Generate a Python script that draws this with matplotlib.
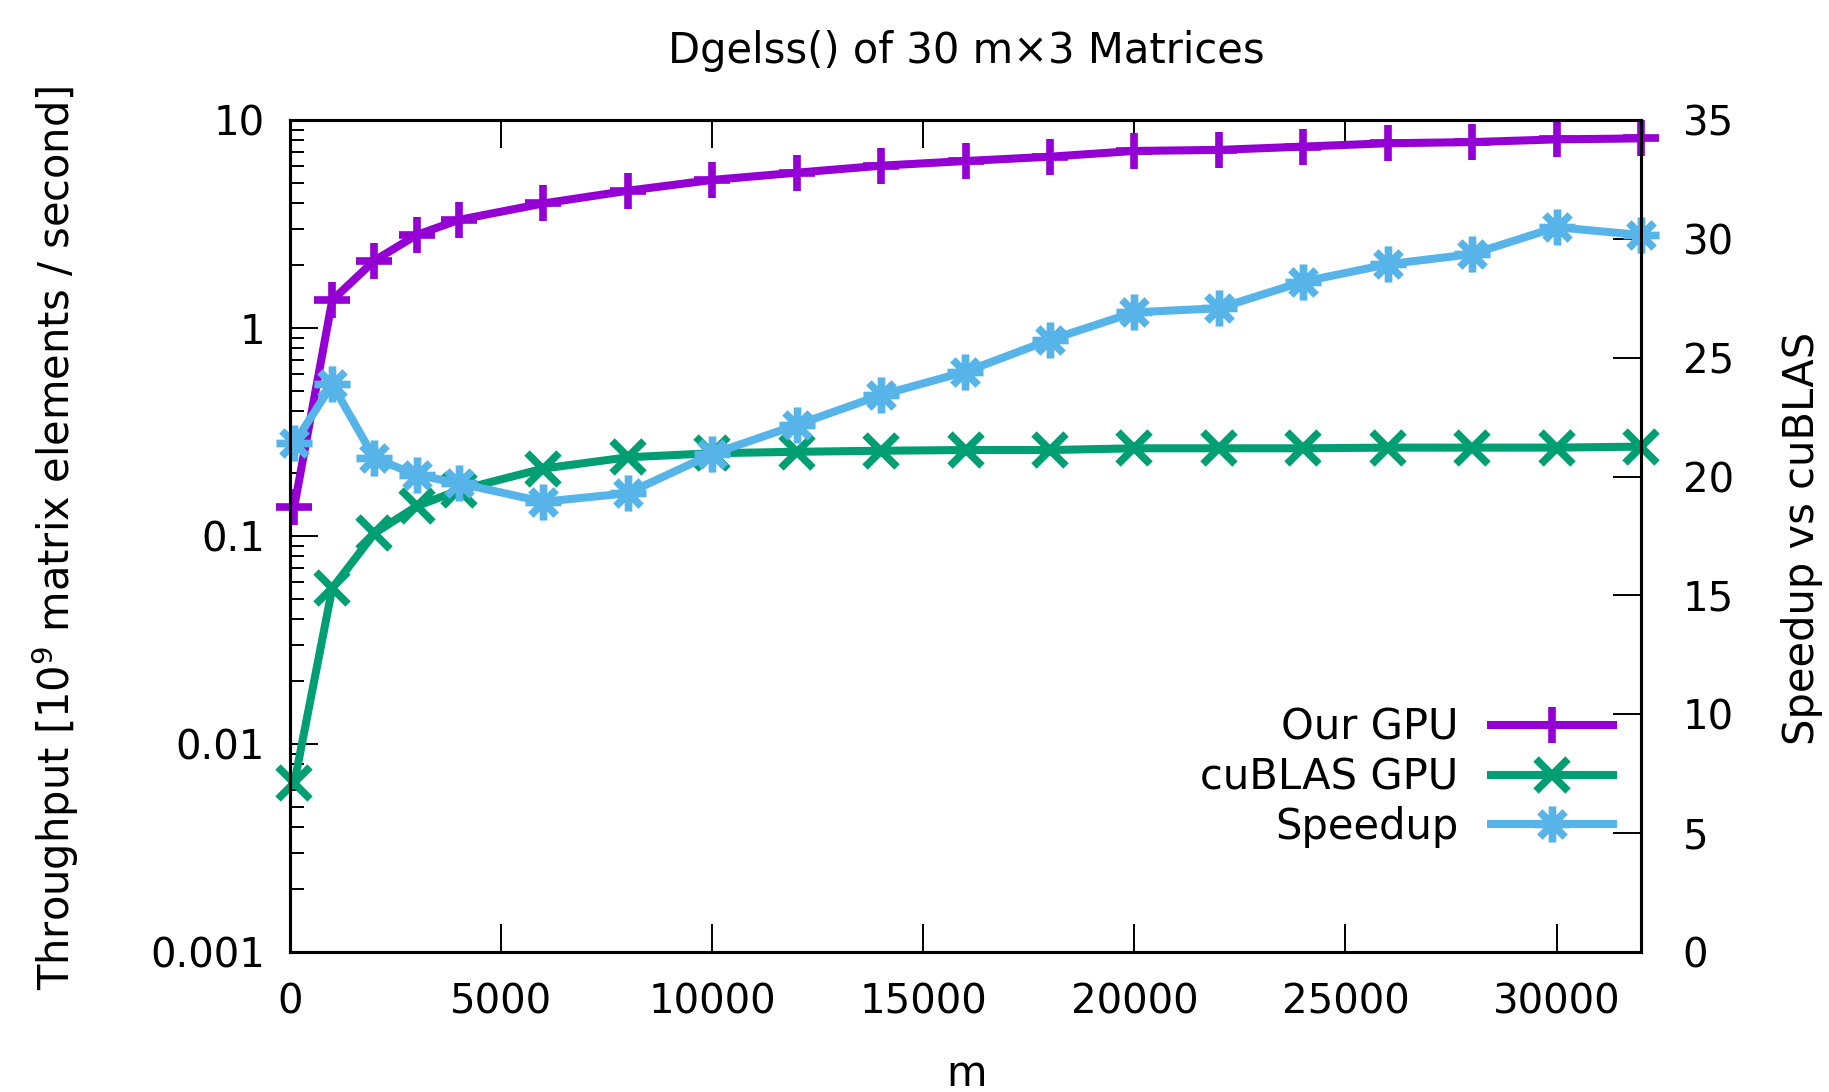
import matplotlib.pyplot as plt
from matplotlib.path import Path
from matplotlib.ticker import FixedLocator, FixedFormatter, LogLocator, NullFormatter

plt.rcParams.update({
    "font.family": "DejaVu Sans",
    "font.size": 30,
})

# data
m = [100, 1000, 2000, 3000, 4000, 6000, 8000, 10000, 12000, 14000, 16000,
     18000, 20000, 22000, 24000, 26000, 28000, 30000, 32000]
our_gpu = [0.138, 1.36, 2.11, 2.80, 3.31, 3.97, 4.57, 5.15, 5.58, 6.03, 6.35,
           6.66, 7.10, 7.18, 7.45, 7.73, 7.83, 8.07, 8.16]
cublas_gpu = [0.00647, 0.056, 0.103, 0.139, 0.166, 0.211, 0.239, 0.25, 0.254,
              0.257, 0.259, 0.259, 0.264, 0.264, 0.264, 0.266, 0.266, 0.266, 0.269]
speedup = [21.4, 23.88, 20.77, 20.07, 19.72, 18.94, 19.3, 20.95, 22.17, 23.43,
           24.41, 25.75, 26.91, 27.08, 28.2, 28.93, 29.36, 30.49, 30.16]

purple = "#9400D3"
green = "#009E73"
blue = "#56B4E9"

# gnuplot point type 3: plus and cross together
star = Path([(-1, 0), (1, 0), (0, -1), (0, 1), (-0.7, -0.7), (0.7, 0.7), (-0.7, 0.7), (0.7, -0.7)],
            [Path.MOVETO, Path.LINETO] * 4)

W, H = 1829, 1092
fig = plt.figure(figsize=(W / 100, H / 100), dpi=100)
ax = fig.add_axes([290 / W, 1 - 952 / H, 1351 / W, 832 / H])
ax2 = ax.twinx()

lw = 5.8
l1, = ax.plot(m, our_gpu, color=purple, lw=lw, marker="+", ms=26, mew=5.5,
              label="Our GPU", clip_on=False)
l2, = ax.plot(m, cublas_gpu, color=green, lw=lw, marker="x", ms=23, mew=5.5,
              label="cuBLAS GPU", clip_on=False)
l3, = ax2.plot(m, speedup, color=blue, lw=lw, marker=star, ms=26, mew=5.5,
               label="Speedup", clip_on=False)

ax.set_yscale("log")
ax.set_ylim(0.001, 10)
ax.set_xlim(0, 32000)
ax2.set_ylim(0, 35)

ax.xaxis.set_major_locator(FixedLocator([0, 5000, 10000, 15000, 20000, 25000, 30000]))
ax.yaxis.set_major_locator(FixedLocator([0.001, 0.01, 0.1, 1, 10]))
ax.yaxis.set_major_formatter(FixedFormatter(["0.001", "0.01", "0.1", "1", "10"]))
ax.yaxis.set_minor_locator(LogLocator(base=10, subs=range(2, 10)))
ax.yaxis.set_minor_formatter(NullFormatter())
ax2.yaxis.set_major_locator(FixedLocator(range(0, 36, 5)))

ax.tick_params(axis="x", which="major", direction="in", length=20, width=1.4,
               top=True, pad=22, labelsize=29)
ax.tick_params(axis="y", which="major", direction="in", length=20, width=1.4,
               right=False, pad=18, labelsize=29)
ax.tick_params(axis="y", which="minor", direction="in", length=10, width=1.4, right=False)
ax2.tick_params(axis="y", direction="in", length=20, width=1.4, pad=30, labelsize=29)

for a in (ax, ax2):
    for s in a.spines.values():
        s.set_linewidth(2.2)

fig.text(55 / W, 1 - 538 / H, "Throughput [10$^9$ matrix elements / second]",
         rotation=90, ha="center", va="center", fontsize=30)
fig.text(1802 / W, 1 - 538 / H, "Speedup vs cuBLAS",
         rotation=90, ha="center", va="center", fontsize=30)
fig.text(966 / W, 1 - 51 / H, "Dgelss() of 30 m\u00d73 Matrices", ha="center", va="center", fontsize=30)
fig.text(966 / W, 1 - 1086 / H, "m", ha="center", va="baseline", fontsize=30)

ax2.legend([l1, l2, l3], ["Our GPU", "cuBLAS GPU", "Speedup"], loc="center right",
           bbox_to_anchor=(0.979, 0.21), frameon=False, markerfirst=False,
           borderaxespad=0, borderpad=0, handlelength=2.93, handletextpad=0.77,
           labelspacing=0.18, fontsize=30)

fig.savefig("out.png", dpi=100)
